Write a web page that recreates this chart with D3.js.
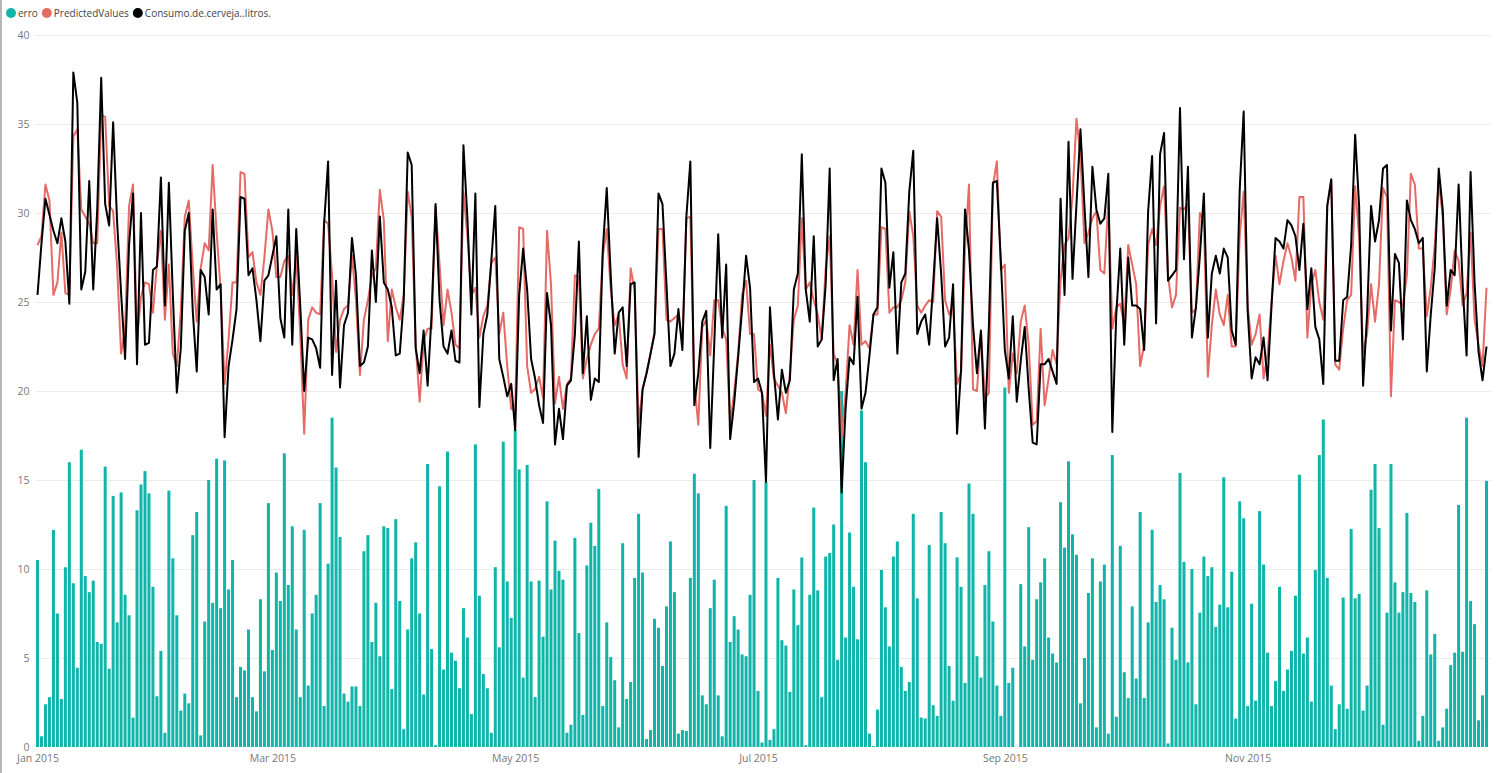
<!DOCTYPE html>
<html>
<head>
<meta charset="utf-8">
<script src="https://cdn.jsdelivr.net/npm/d3@7"></script>
<style>
  body { margin: 0; background: #fff; }
  text { font-family: "Open Sans", "Noto Sans", sans-serif; }
</style>
</head>
<body>
<div id="chart"></div>
<script>
// daily values, Jan 1 2015 .. Dec 31 2015
const erro = [
  10.5, 0.6, 2.4, 2.8, 12.2, 7.5, 2.7, 10.1, 16.0, 9.2,
  4.45, 16.7, 9.6, 8.7, 9.35, 5.9, 5.8, 15.75, 4.4, 14.1,
  7.0, 14.3, 8.55, 7.4, 1.65, 13.3, 14.75, 15.5, 14.25, 9.0,
  2.85, 5.4, 0.8, 14.4, 10.6, 7.4, 2.05, 3.0, 2.45, 11.9,
  13.2, 0.65, 7.05, 15.0, 8.1, 16.2, 7.8, 16.1, 8.85, 10.5,
  2.8, 4.5, 4.3, 6.6, 2.8, 2.0, 8.3, 4.25, 13.7, 5.45,
  9.8, 8.2, 16.5, 9.1, 12.4, 6.6, 2.8, 12.2, 3.45, 7.5,
  8.55, 13.7, 2.3, 10.3, 18.5, 15.7, 11.8, 3.0, 2.55, 3.4,
  3.4, 2.3, 11.0, 11.9, 5.9, 8.1, 5.1, 12.4, 12.3, 3.25,
  12.8, 8.2, 1.0, 6.6, 10.6, 11.5, 7.5, 2.95, 15.9, 5.5,
  0.1, 14.65, 4.35, 16.6, 5.3, 4.85, 3.3, 7.8, 6.15, 1.85,
  17.0, 8.5, 4.1, 3.3, 0.8, 10.1, 5.6, 17.15, 9.3, 7.25,
  17.8, 15.6, 3.9, 15.85, 9.3, 2.8, 9.35, 6.2, 13.8, 8.85,
  11.6, 9.9, 9.4, 0.8, 1.25, 11.75, 6.4, 1.8, 10.2, 12.6,
  11.3, 14.5, 2.3, 7.0, 5.05, 3.75, 1.1, 11.45, 2.7, 3.65,
  9.5, 13.1, 9.8, 0.45, 0.95, 7.2, 6.7, 4.55, 7.9, 11.55,
  8.7, 0.75, 0.95, 0.9, 9.5, 15.35, 14.25, 2.9, 2.4, 7.8,
  9.4, 2.9, 0.6, 13.55, 5.9, 7.35, 6.6, 5.2, 5.1, 8.55,
  15.0, 3.15, 0.25, 14.9, 0.4, 1.0, 9.5, 6.0, 5.7, 3.1,
  8.85, 6.85, 10.65, 0.1, 8.55, 13.45, 8.8, 2.8, 10.7, 10.9,
  12.5, 4.9, 20.0, 6.15, 12.05, 9.0, 6.05, 18.9, 16.0, 0.75,
  0.05, 2.1, 9.95, 7.85, 5.65, 10.7, 11.55, 4.5, 3.15, 3.65,
  13.1, 8.35, 1.65, 1.6, 11.35, 2.35, 1.75, 13.2, 11.45, 4.55,
  2.6, 10.65, 9.0, 3.6, 14.8, 13.1, 5.1, 3.9, 9.1, 11.0,
  7.05, 3.45, 1.75, 20.2, 3.6, 4.45, 0.0, 9.15, 5.65, 12.35,
  4.9, 8.3, 9.25, 10.6, 6.15, 5.25, 4.75, 13.75, 11.2, 16.05,
  11.95, 10.8, 2.45, 5.0, 8.65, 10.6, 1.1, 9.3, 10.25, 0.75,
  16.4, 1.7, 11.3, 4.2, 2.75, 7.9, 3.85, 13.2, 2.75, 7.0,
  12.2, 8.15, 9.1, 8.3, 0.2, 6.7, 4.9, 15.4, 10.4, 4.75,
  10.0, 2.4, 7.55, 10.7, 9.6, 10.1, 6.75, 8.0, 15.15, 7.85,
  9.85, 1.6, 13.8, 12.85, 2.3, 8.05, 2.6, 13.25, 10.25, 5.3,
  2.3, 3.7, 9.0, 3.15, 4.35, 5.4, 8.5, 15.3, 5.25, 6.15,
  2.55, 9.95, 16.4, 18.4, 9.5, 3.45, 1.0, 2.4, 8.4, 2.15,
  12.25, 8.35, 8.6, 2.05, 3.45, 14.45, 15.9, 12.3, 1.25, 7.55,
  15.9, 9.25, 7.55, 8.7, 13.15, 8.65, 8.15, 0.35, 1.75, 8.8,
  5.2, 6.35, 0.35, 1.1, 2.15, 4.6, 5.3, 13.6, 5.35, 18.5,
  8.2, 6.9, 1.5, 2.9, 14.95
];

const predictedValues = [
  28.2, 28.7, 31.6, 30.7, 25.4, 26.1, 28.9, 25.5, 25.4, 34.3,
  34.7, 30.2, 29.8, 29.4, 28.3, 28.3, 35.5, 35.4, 30.4, 30.1,
  27.0, 22.1, 23.5, 30.4, 31.6, 22.9, 25.3, 26.1, 26.0, 24.4,
  27.1, 29.0, 24.0, 27.1, 22.1, 21.4, 24.5, 29.8, 30.7, 27.0,
  23.9, 26.9, 28.3, 27.9, 32.7, 28.9, 25.7, 20.4, 22.9, 26.1,
  26.1, 32.3, 32.2, 27.5, 27.8, 26.1, 25.4, 27.5, 30.2, 29.0,
  26.4, 26.4, 27.3, 27.6, 25.4, 27.6, 23.2, 17.6, 24.0, 24.7,
  24.4, 24.3, 29.6, 29.4, 26.5, 22.2, 24.0, 24.6, 24.8, 27.6,
  25.1, 20.9, 24.0, 25.1, 26.5, 26.9, 31.3, 29.6, 22.8, 25.7,
  24.7, 24.0, 25.4, 31.2, 29.8, 22.6, 19.4, 22.8, 23.5, 23.5,
  30.4, 27.1, 23.7, 25.7, 24.4, 22.6, 22.4, 31.2, 28.7, 25.4,
  25.8, 23.0, 24.2, 24.8, 27.2, 27.5, 23.2, 24.4, 21.4, 19.0,
  18.9, 29.2, 29.1, 21.4, 19.9, 20.1, 20.8, 19.6, 29.0, 26.0,
  19.3, 20.8, 19.0, 20.4, 20.7, 26.5, 26.4, 20.7, 21.8, 22.6,
  23.2, 23.5, 27.6, 29.1, 25.7, 23.7, 24.3, 21.5, 20.7, 26.9,
  25.7, 18.2, 20.1, 21.0, 22.1, 23.3, 29.1, 29.1, 24.0, 23.9,
  24.1, 24.3, 22.6, 29.7, 29.8, 20.4, 18.1, 23.6, 24.0, 22.0,
  25.1, 25.1, 23.5, 22.9, 18.2, 19.9, 22.1, 25.4, 26.2, 23.2,
  23.2, 20.1, 19.9, 18.6, 22.6, 20.7, 20.3, 19.9, 18.75, 21.0,
  24.0, 24.8, 29.7, 25.7, 26.1, 25.1, 24.3, 22.9, 26.9, 28.7,
  22.1, 21.5, 17.4, 19.9, 23.7, 22.6, 26.8, 22.6, 22.8, 22.4,
  24.3, 24.3, 29.2, 29.1, 24.4, 24.7, 24.7, 25.1, 26.1, 30.1,
  28.7, 24.8, 24.4, 24.8, 25.1, 25.0, 30.1, 29.8, 25.1, 24.3,
  24.8, 20.4, 21.0, 28.0, 31.6, 20.1, 20.0, 23.3, 19.6, 19.9,
  31.5, 32.9, 26.8, 27.1, 19.9, 22.1, 21.0, 23.9, 24.8, 22.6,
  18.1, 18.3, 23.5, 19.2, 20.7, 22.3, 21.5, 26.2, 28.2, 28.6,
  30.9, 35.3, 33.2, 28.3, 28.9, 29.7, 30.1, 26.8, 26.6, 30.7,
  23.5, 24.7, 24.9, 23.7, 28.2, 27.1, 26.0, 21.4, 22.6, 28.2,
  29.1, 28.2, 30.4, 31.5, 26.5, 24.7, 25.4, 30.3, 30.2, 30.5,
  24.4, 24.6, 30.0, 29.6, 20.8, 23.7, 25.7, 24.3, 23.7, 25.4,
  22.5, 22.5, 28.7, 31.2, 24.8, 22.6, 23.2, 24.3, 20.7, 22.1,
  25.0, 27.6, 26.0, 27.3, 28.3, 27.5, 26.2, 30.9, 30.9, 23.0,
  26.0, 26.8, 25.0, 24.0, 30.4, 31.8, 21.5, 21.2, 23.5, 25.1,
  25.4, 31.5, 28.7, 22.1, 23.2, 26.0, 23.9, 26.0, 31.4, 30.9,
  19.7, 25.1, 25.0, 24.8, 26.5, 32.2, 31.6, 28.0, 28.0, 24.2,
  25.8, 28.2, 31.8, 29.8, 24.3, 25.7, 27.9, 27.3, 24.8, 25.5,
  28.9, 24.0, 22.6, 21.4, 25.8
];

const consumoLitros = [
  25.4, 28.3, 30.8, 29.9, 29.0, 28.3, 29.7, 28.4, 24.9, 37.9,
  36.2, 25.7, 26.7, 31.8, 25.7, 30.2, 37.6, 30.5, 29.3, 35.1,
  29.5, 25.5, 21.8, 28.2, 31.1, 21.5, 30.0, 22.6, 22.7, 26.8,
  27.0, 32.0, 24.8, 31.7, 25.4, 19.9, 22.4, 29.0, 30.0, 24.5,
  21.1, 26.8, 26.4, 24.3, 30.2, 25.7, 26.0, 17.4, 21.4, 22.9,
  24.6, 30.9, 30.8, 26.5, 26.9, 25.1, 22.8, 26.2, 26.5, 27.6,
  28.7, 24.1, 23.0, 30.2, 22.6, 29.1, 24.8, 20.0, 23.0, 22.9,
  22.4, 21.3, 29.4, 32.9, 20.9, 26.2, 20.2, 23.7, 24.4, 28.6,
  26.5, 21.4, 21.6, 22.5, 27.9, 25.0, 29.8, 26.1, 25.7, 24.7,
  22.0, 22.1, 25.1, 33.4, 32.7, 22.4, 21.0, 23.4, 20.3, 24.3,
  30.5, 25.1, 22.5, 22.1, 23.4, 21.7, 21.6, 33.8, 29.7, 24.3,
  31.1, 19.1, 23.2, 24.3, 27.3, 30.4, 21.8, 20.8, 19.7, 20.4,
  17.8, 25.4, 28.0, 25.7, 21.8, 20.7, 19.2, 18.2, 25.5, 23.7,
  17.0, 19.0, 17.3, 20.3, 20.6, 23.2, 28.4, 21.0, 24.2, 19.5,
  20.7, 20.5, 27.9, 31.4, 26.5, 22.1, 24.4, 24.7, 21.4, 26.0,
  26.1, 16.3, 20.1, 21.0, 22.1, 23.2, 31.1, 30.5, 26.0, 21.4,
  22.1, 24.6, 22.3, 29.8, 32.9, 19.2, 21.0, 23.9, 24.5, 16.8,
  22.6, 28.8, 23.0, 27.1, 17.3, 19.3, 21.9, 24.6, 27.6, 25.8,
  20.5, 20.7, 19.9, 14.9, 24.7, 21.0, 18.4, 21.2, 19.9, 20.6,
  25.7, 26.6, 33.3, 25.7, 23.9, 28.7, 22.5, 22.9, 26.0, 32.5,
  20.6, 21.8, 14.3, 19.0, 21.9, 21.5, 25.3, 19.0, 19.9, 22.0,
  24.3, 24.7, 32.5, 31.7, 25.8, 27.8, 22.1, 26.1, 26.6, 31.2,
  33.5, 23.2, 23.9, 24.3, 22.6, 26.0, 29.7, 26.6, 22.5, 23.0,
  26.0, 17.6, 21.2, 30.2, 27.9, 23.7, 21.0, 23.4, 17.9, 23.7,
  31.7, 31.8, 27.3, 22.3, 20.7, 24.2, 19.4, 21.7, 23.6, 20.1,
  17.1, 17.0, 21.5, 21.5, 21.8, 21.1, 20.4, 30.8, 25.4, 34.0,
  26.3, 30.5, 34.7, 30.4, 26.4, 32.6, 30.2, 29.4, 29.7, 32.2,
  17.7, 24.3, 28.0, 22.6, 27.5, 24.8, 24.8, 24.6, 22.3, 30.1,
  33.2, 23.8, 33.3, 34.5, 26.2, 26.5, 26.8, 35.9, 27.4, 32.6,
  23.0, 24.7, 27.6, 31.1, 23.0, 26.6, 27.6, 26.6, 28.0, 27.5,
  23.4, 22.6, 31.3, 35.7, 24.5, 20.7, 21.9, 21.5, 23.0, 20.6,
  24.8, 28.6, 28.4, 28.0, 29.6, 29.3, 28.7, 26.8, 29.4, 24.6,
  26.9, 23.6, 22.9, 20.4, 30.4, 31.9, 21.7, 21.7, 25.1, 25.3,
  28.2, 34.4, 30.4, 20.3, 24.3, 30.4, 28.4, 29.6, 32.5, 32.7,
  23.4, 27.7, 27.2, 22.9, 30.7, 29.6, 29.1, 28.3, 28.6, 21.1,
  24.3, 26.9, 32.5, 30.2, 24.8, 26.8, 26.5, 31.6, 26.0, 22.0,
  32.3, 26.1, 22.2, 20.6, 22.5
];

const seriesNames = ["erro", "PredictedValues", "Consumo.de.cerveja..litros."];
const seriesColors = ["#0EB5A8", "#E66A66", "#000000"];
const yTickValues = [0, 5, 10, 15, 20, 25, 30, 35, 40];
const xTickDates = [new Date(2015, 0, 1), new Date(2015, 2, 1), new Date(2015, 4, 1),
                    new Date(2015, 6, 1), new Date(2015, 8, 1), new Date(2015, 10, 1)];

const start = new Date(2015, 0, 1);
const days = erro.map((v, i) => d3.timeDay.offset(start, i));

// frame
const WIDTH = 1508, HEIGHT = 773;
const MARGINS = {left: 37.5, right: 21.5, top: 35, bottom: 26};

const svg = d3.select('#chart')
  .append('svg')
  .attr('width', WIDTH)
  .attr('height', HEIGHT);

svg.append('rect').attr('width', WIDTH).attr('height', HEIGHT).attr('fill', '#fff');
// left window border
svg.append('line')
  .attr('x1', 1).attr('x2', 1).attr('y1', 0).attr('y2', HEIGHT)
  .attr('stroke', '#b8b8b8').attr('stroke-width', 2);

// scales
const x = d3.scaleTime()
  .domain([start, new Date(2015, 11, 31)])
  .range([MARGINS.left, WIDTH - MARGINS.right]);
const y = d3.scaleLinear()
  .domain([0, 40])
  .range([HEIGHT - MARGINS.bottom, MARGINS.top]);

// gridlines + y labels
const yAxis = svg.append('g')
  .attr('transform', `translate(${MARGINS.left - 2},0)`)
  .call(d3.axisLeft(y).tickValues(yTickValues).tickSize(-(WIDTH - MARGINS.left - MARGINS.right + 6)).tickPadding(6));
yAxis.select('.domain').remove();
yAxis.selectAll('line').attr('stroke', '#ebebeb').attr('stroke-width', 1);
yAxis.selectAll('text').attr('fill', '#777').style('font-size', '10.5px');
yAxis.selectAll('.tick').filter(d => d === 0).select('line').remove();

// x labels
const xAxis = svg.append('g')
  .attr('transform', `translate(0,${HEIGHT - MARGINS.bottom})`)
  .call(d3.axisBottom(x).tickValues(xTickDates).tickFormat(d3.timeFormat('%b %Y')).tickSize(0).tickPadding(8));
xAxis.select('.domain').remove();
xAxis.selectAll('text').attr('fill', '#777').style('font-size', '10.5px');

// bars
const barW = 3;
svg.append('g')
  .selectAll('rect')
  .data(erro)
  .join('rect')
  .attr('x', (d, i) => x(days[i]) - barW / 2)
  .attr('y', d => y(d))
  .attr('width', barW)
  .attr('height', d => y(0) - y(d))
  .attr('fill', seriesColors[0]);

// lines
const line = d3.line()
  .x((d, i) => x(days[i]))
  .y(d => y(d));

svg.append('path')
  .datum(predictedValues)
  .attr('fill', 'none')
  .attr('stroke', seriesColors[1])
  .attr('stroke-width', 2)
  .attr('stroke-linejoin', 'round')
  .attr('d', line);

svg.append('path')
  .datum(consumoLitros)
  .attr('fill', 'none')
  .attr('stroke', seriesColors[2])
  .attr('stroke-width', 2)
  .attr('stroke-linejoin', 'round')
  .attr('d', line);

// legend
const legend = svg.append('g').attr('transform', 'translate(11,13)');
let lx = 0;
seriesNames.forEach((name, i) => {
  legend.append('circle')
    .attr('cx', lx).attr('cy', 0).attr('r', 5)
    .attr('fill', seriesColors[i]);
  const t = legend.append('text')
    .attr('x', lx + 7).attr('y', 0)
    .attr('dy', '0.35em')
    .attr('fill', '#444')
    .style('font-size', '10px')
    .text(name);
  lx += 7 + t.node().getComputedTextLength() + 9;
});
</script>
</body>
</html>
